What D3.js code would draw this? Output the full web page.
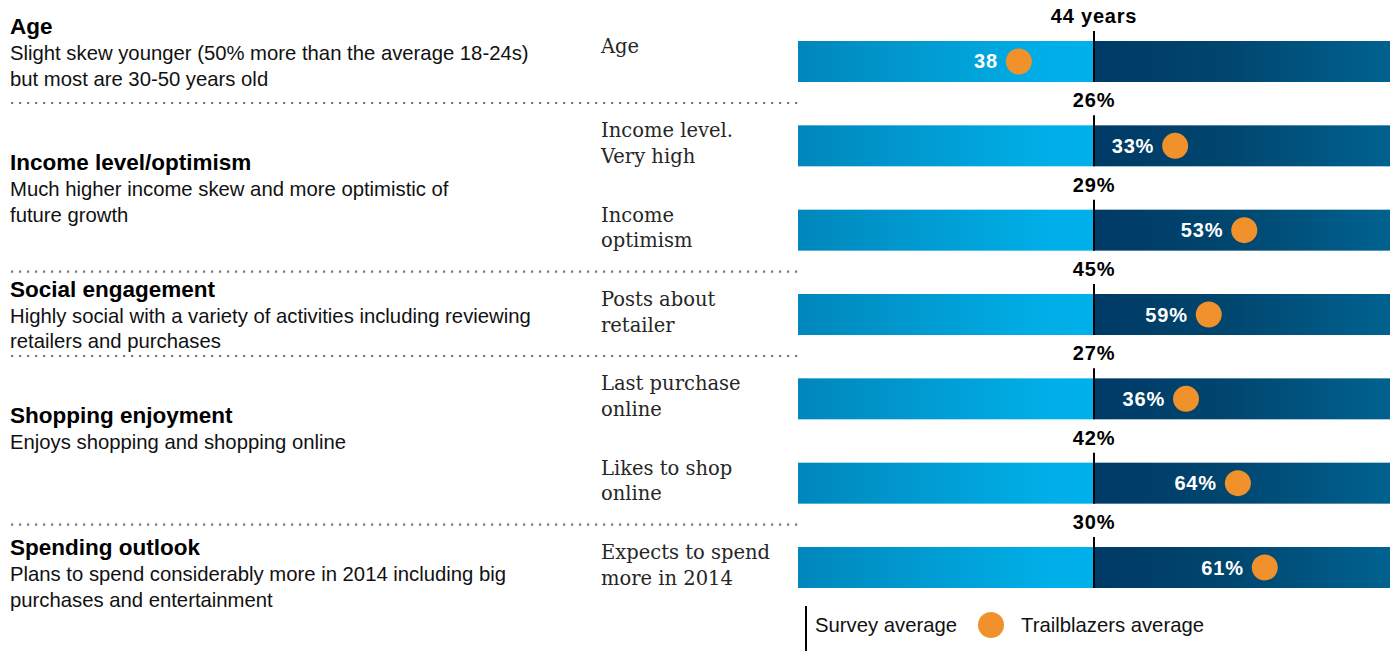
<!DOCTYPE html>
<html>
<head>
<meta charset="utf-8">
<script src="https://cdn.jsdelivr.net/npm/d3@7"></script>
<style>
  html, body { margin: 0; padding: 0; background: #fff; }
  svg { display: block; }
  .sans { font-family: "Liberation Sans", Arial, Helvetica, sans-serif; }
  .slab { font-family: "DejaVu Serif", serif; }
</style>
</head>
<body>
<svg id="chart" width="1391" height="651"></svg>
<script>
// Profile groups shown in the left column
const groupTitles = ["Age", "Income level/optimism", "Social engagement", "Shopping enjoyment", "Spending outlook"];
const groupNotes = [
  ["Slight skew younger (50% more than the average 18-24s)", "but most are 30-50 years old"],
  ["Much higher income skew and more optimistic of", "future growth"],
  ["Highly social with a variety of activities including reviewing", "retailers and purchases"],
  ["Enjoys shopping and shopping online"],
  ["Plans to spend considerably more in 2014 including big", "purchases and entertainment"]
];

// One bar per measure
const measures = [
  ["Age"],
  ["Income level.", "Very high"],
  ["Income", "optimism"],
  ["Posts about", "retailer"],
  ["Last purchase", "online"],
  ["Likes to shop", "online"],
  ["Expects to spend", "more in 2014"]
];
const measureGroup = [0, 1, 1, 2, 3, 3, 4];
const surveyAverage = [44, 26, 29, 45, 27, 42, 30];
const trailblazersAverage = [38, 33, 53, 59, 36, 64, 61];
const surveySuffix = [" years", "%", "%", "%", "%", "%", "%"];
const trailSuffix = ["", "%", "%", "%", "%", "%", "%"];
const legendLabels = ["Survey average", "Trailblazers average"];

const svg = d3.select("#chart");

const barLeft = 798, barRight = 1390;
const mid = (barLeft + barRight) / 2;   // survey average sits at the bar centre

const rowIdx = d3.range(measures.length);
const y = d3.scaleBand().domain(rowIdx).range([41, 588]).paddingInner(0.514).paddingOuter(0);
const bh = y.bandwidth();

// distance of the trailblazer dot from the survey line grows with the gap
const gap = d3.scaleSqrt().domain([0, 30]).range([0, 168]);
const dotX = i => {
  const d = trailblazersAverage[i] - surveyAverage[i];
  return mid + Math.sign(d) * gap(Math.abs(d));
};

const defs = svg.append("defs");
const lg = defs.append("linearGradient").attr("id", "lightHalf");
lg.append("stop").attr("offset", "0%").attr("stop-color", "#0087bb");
lg.append("stop").attr("offset", "85%").attr("stop-color", "#00afe8");
lg.append("stop").attr("offset", "100%").attr("stop-color", "#00b0ea");
const dg = defs.append("linearGradient").attr("id", "darkHalf");
dg.append("stop").attr("offset", "0%").attr("stop-color", "#003a66");
dg.append("stop").attr("offset", "45%").attr("stop-color", "#00466f");
dg.append("stop").attr("offset", "100%").attr("stop-color", "#006290");

// separators between groups
const groupRows = groupTitles.map((g, gi) => rowIdx.filter(i => measureGroup[i] === gi));
const sepY = groupRows.map(r => y(d3.max(r)) + bh + 21);
svg.append("g").selectAll("line")
  .data(sepY.slice(0, -1))
  .join("line")
  .attr("x1", 11).attr("x2", 800)
  .attr("y1", d => d).attr("y2", d => d)
  .attr("stroke", "#7b7b7b").attr("stroke-width", 2.2)
  .attr("stroke-dasharray", "2.2 5.8");

// left column: group title + note, centred in the band between separators
const bandTop = [0, ...sepY.slice(0, -1)];
const bandBottom = [...sepY.slice(0, -1), y.range()[1] + 32];
const groupG = svg.append("g").attr("class", "sans");
groupTitles.forEach((t, gi) => {
  const base = (bandTop[gi] + bandBottom[gi]) / 2 - 17;
  groupG.append("text")
    .attr("x", 10).attr("y", base)
    .attr("font-size", 22.5).attr("font-weight", "bold").attr("fill", "#000")
    .text(t);
  groupNotes[gi].forEach((l, li) => {
    groupG.append("text")
      .attr("x", 10).attr("y", base + 26 + li * 25.5)
      .attr("font-size", 20.3).attr("fill", "#111")
      .text(l);
  });
});

// measure labels
svg.append("g").attr("class", "slab")
  .selectAll("text").data(rowIdx).join("text")
  .attr("x", 601).attr("y", i => y(i) + 12)
  .attr("font-size", 19.5).attr("fill", "#262626")
  .selectAll("tspan").data(i => measures[i]).join("tspan")
  .attr("x", 601).attr("dy", (d, j) => j === 0 ? 0 : 25.5)
  .text(d => d);

const rows = svg.append("g").selectAll("g").data(rowIdx).join("g");

rows.append("rect")
  .attr("x", barLeft).attr("y", i => y(i))
  .attr("width", mid - barLeft).attr("height", bh)
  .attr("fill", "url(#lightHalf)");
rows.append("rect")
  .attr("x", mid).attr("y", i => y(i))
  .attr("width", barRight - mid).attr("height", bh)
  .attr("fill", "url(#darkHalf)");

// survey average line and value
rows.append("line")
  .attr("x1", mid).attr("x2", mid)
  .attr("y1", i => y(i) - 10).attr("y2", i => y(i) + bh)
  .attr("stroke", "#000").attr("stroke-width", 2);
rows.append("text")
  .attr("class", "sans")
  .attr("x", mid).attr("y", i => y(i) - 18)
  .attr("text-anchor", "middle")
  .attr("font-size", 20).attr("font-weight", "bold").attr("fill", "#000")
  .attr("letter-spacing", 0.8)
  .text(i => surveyAverage[i] + surveySuffix[i]);

// trailblazers dot and value
rows.append("circle")
  .attr("cx", dotX).attr("cy", i => y(i) + bh / 2)
  .attr("r", 13).attr("fill", "#f0912b");
rows.append("text")
  .attr("class", "sans")
  .attr("x", i => dotX(i) - 21).attr("y", i => y(i) + bh / 2 + 7)
  .attr("text-anchor", "end")
  .attr("font-size", 20).attr("font-weight", "bold").attr("fill", "#fff")
  .attr("letter-spacing", 0.8)
  .text(i => trailblazersAverage[i] + trailSuffix[i]);

// legend
const legend = svg.append("g").attr("class", "sans");
legend.append("line")
  .attr("x1", 806).attr("x2", 806).attr("y1", 606).attr("y2", 651)
  .attr("stroke", "#000").attr("stroke-width", 2);
legend.append("text")
  .attr("x", 815).attr("y", 632).attr("font-size", 20.3).attr("fill", "#111")
  .text(legendLabels[0]);
legend.append("circle")
  .attr("cx", 991).attr("cy", 625).attr("r", 13).attr("fill", "#f0912b");
legend.append("text")
  .attr("x", 1021).attr("y", 632).attr("font-size", 20.3).attr("fill", "#111")
  .text(legendLabels[1]);
</script>
</body>
</html>
